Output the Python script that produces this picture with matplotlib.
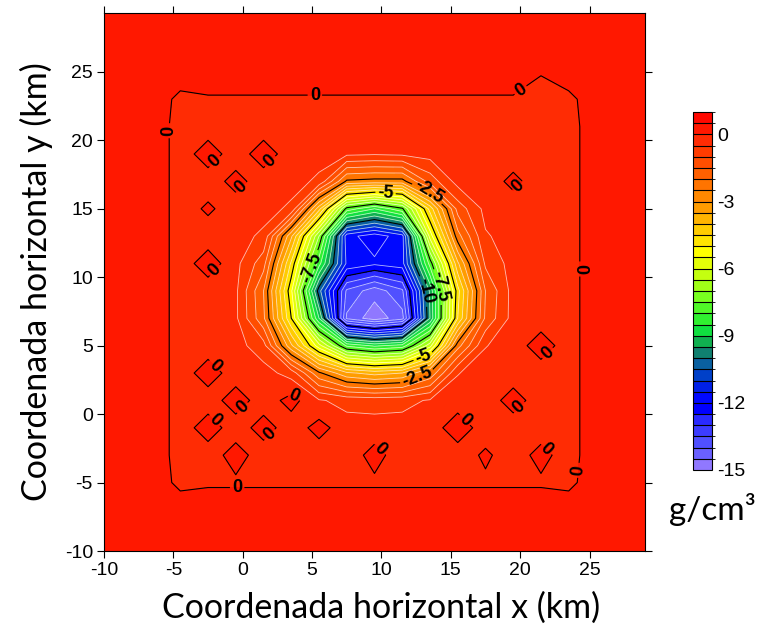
import numpy as np
import matplotlib
matplotlib.use("Agg")
import matplotlib.pyplot as plt
from matplotlib.colors import ListedColormap, BoundaryNorm
from matplotlib.cm import ScalarMappable

plt.rcParams['font.family'] = ['Liberation Sans', 'DejaVu Sans']
plt.rcParams['axes.unicode_minus'] = False
plt.rcParams['contour.negative_linestyle'] = 'solid'

# grid nodes (km)
x_km = np.arange(-10.5, 30, 2.0)   # -10.5 ... 29.5  (21 columns)
y_km = np.arange(-11, 32, 2.0)     # -11 ... 31      (22 rows)

# density contrast read from the map, one row per y node (bottom to top)
#         -10.5 -8.5 -6.5 | -4.5 -2.5 -0.5  1.5  3.5   5.5   7.5   9.5  11.5  13.5  15.5  17.5  19.5  21.5  23.5 | 25.5 27.5 29.5
rho = [
    [.45, .45, .45, .45, .45, .45, .45, .45, .45, .45, .45, .45, .45, .45, .45, .45, .45, .45, .45, .45, .45],   # -11
    [.45, .45, .45, .45, .45, .45, .45, .45, .45, .45, .45, .45, .45, .45, .45, .45, .45, .45, .45, .45, .45],   # -9
    [.45, .45, .45, .45, .45, .45, .45, .45, .45, .45, .45, .45, .45, .45, .45, .45, .45, .45, .45, .45, .45],   # -7
    [.45, .45, .45, -.2, -.1, -.1, -.1, -.1, -.1, -.1, -.1, -.1, -.1, -.1, -.1, -.1, -.1, -.2, .45, .45, .45],   # -5
    [.45, .45, .45, -.3, -.3, .25, -.3, -.3, -.3, -.3, .2, -.3, -.3, -.3, .1, -.3, .2, -.3, .45, .45, .45],      # -3
    [.45, .45, .45, -.3, .3, -.3, .25, -.3, .2, -.3, -.3, -.3, -.3, .35, -.3, -.3, -.3, -.3, .45, .45, .45],      # -1
    [.45, .45, .45, -.3, -.3, .3, -.3, .2, -.45, -.65, -.7, -.65, -.45, -.3, -.3, .25, -.3, -.3, .45, .45, .45],  # 1
    [.45, .45, .45, -.3, .3, -.3, -.3, -.7, -2.4, -3.4, -3.7, -3.5, -2.4, -.52, -.3, -.3, -.3, -.3, .45, .45, .45],  # 3
    [.45, .45, .45, -.3, -.3, -.3, -.8, -3.4, -5.8, -8.1, -8.6, -8.3, -6.2, -2.2, -.52, -.3, .3, -.3, .45, .45, .45],  # 5
    [.45, .45, .45, -.3, -.3, -.4, -1.9, -5.0, -9.0, -14.1, -14.8, -14.2, -9.5, -4.5, -1.4, -.3, -.3, -.3, .45, .45, .45],  # 7
    [.45, .45, .45, -.3, -.3, -.4, -2.0, -5.4, -10.3, -13.6, -14.3, -13.6, -9.4, -4.7, -1.5, -.3, -.3, -.3, .45, .45, .45],  # 9
    [.45, .45, .45, -.3, .3, -.35, -1.3, -4.6, -8.3, -11.6, -11.9, -11.7, -7.8, -3.6, -.9, -.3, -.3, -.3, .45, .45, .45],  # 11
    [.45, .45, .45, -.3, -.3, -.3, -.6, -3.4, -7.0, -11.8, -12.3, -11.7, -5.8, -2.2, -.55, -.3, -.3, -.3, .45, .45, .45],  # 13
    [.45, .45, .45, -.3, .1, -.3, -.3, -.6, -3.8, -7.7, -8.5, -7.6, -4.3, -1.3, -.35, -.3, -.3, -.3, .45, .45, .45],  # 15
    [.45, .45, .45, -.3, -.3, .2, -.3, -.3, -.6, -2.6, -2.7, -2.7, -1.3, -.3, -.3, .15, -.3, -.3, .45, .45, .45],  # 17
    [.45, .45, .45, -.3, .3, -.3, .3, -.3, -.3, -.4, -.45, -.4, -.3, -.3, -.3, -.3, -.3, -.3, .45, .45, .45],      # 19
    [.45, .45, .45, -.3, -.3, -.3, -.3, -.3, -.3, -.3, -.3, -.3, -.3, -.3, -.3, -.3, -.3, -.3, .45, .45, .45],     # 21
    [.45, .45, .45, -.2, -.08, -.08, -.08, -.08, -.08, -.08, -.08, -.08, -.08, -.08, -.08, -.08, -.3, -.2, .45, .45, .45],  # 23
    [.45, .45, .45, .45, .45, .45, .45, .45, .45, .45, .45, .45, .45, .45, .45, .45, .05, .45, .45, .45, .45],   # 25
    [.45, .45, .45, .45, .45, .45, .45, .45, .45, .45, .45, .45, .45, .45, .45, .45, .45, .45, .45, .45, .45],   # 27
    [.45, .45, .45, .45, .45, .45, .45, .45, .45, .45, .45, .45, .45, .45, .45, .45, .45, .45, .45, .45, .45],   # 29
    [.45, .45, .45, .45, .45, .45, .45, .45, .45, .45, .45, .45, .45, .45, .45, .45, .45, .45, .45, .45, .45],   # 31
]

levels = np.arange(-15, 1.01, 0.5)
labelled_levels = [-10, -7.5, -5, -2.5]
unlabelled_black = [-12.5]
cbar_ticks = [0, -3, -6, -9, -12, -15]

band_colors = [
    '#9078ff', '#6a60ff', '#5050ff', '#3c3cff', '#2a2aff', '#0000ff',
    '#0008ff', '#0020e8', '#0040c8', '#0a60a0', '#108070', '#10b050',
    '#10e040', '#30f030', '#50f828', '#78ff20', '#a0ff18', '#c4ff10',
    '#e4ff08', '#ffff00', '#ffe400', '#ffcc00', '#ffb400', '#ff9c00',
    '#ff8800', '#ff7400', '#ff6000', '#ff4e00', '#ff3c00', '#ff2c04',
    '#ff1800', '#ff0800',
]

# where the contour labels sit
anomaly_label_xy = [(10.3, 16.2), (13.2, 15.8), (5.0, 10.7), (14.2, 9.3),
                    (13.2, 9.0), (12.9, 4.5), (12.6, 2.6)]
zero_label_xy = [(5.2, 23.4), (20.2, 23.4), (-5.4, 20.7), (-0.4, -5.3),
                 (24.1, 10.6), (24.1, -4.1),
                 (-2.5, 19), (1.5, 19), (-0.5, 17), (-2.5, 11), (-2.5, 3),
                 (-0.5, 1), (-2.5, -1), (1.5, -1), (3.5, 1), (15.5, -1),
                 (19.5, 1), (21.5, 5), (21.5, -3), (9.5, -3), (19.5, 17)]

Z = np.array(rho)
X, Y = np.meshgrid(x_km, y_km)

cmap = ListedColormap(band_colors)
norm = BoundaryNorm(levels, cmap.N)

fig = plt.figure(figsize=(7.63, 6.40), dpi=100)
ax = fig.add_axes([104 / 763, 89 / 640, 541 / 763, 538 / 640])

ax.contourf(X, Y, Z, levels=levels, cmap=cmap, norm=norm)
minor = [l for l in levels if l < 0 and l > -15 and l % 2.5 != 0]
ax.contour(X, Y, Z, levels=minor, colors='white', linewidths=0.6, alpha=0.7)
ax.contour(X, Y, Z, levels=unlabelled_black, colors='black', linewidths=0.8)
cs = ax.contour(X, Y, Z, levels=labelled_levels, colors='black', linewidths=0.8)
cs0 = ax.contour(X, Y, Z, levels=[0], colors='black', linewidths=0.8)

t1 = ax.clabel(cs, fmt='%g', fontsize=13, manual=anomaly_label_xy,
               inline_spacing=2)
t2 = ax.clabel(cs0, fmt='%g', fontsize=13, manual=zero_label_xy,
               inline_spacing=2)
for t in list(t1) + list(t2):
    t.set_fontweight('bold')

ax.set_xlim(-10, 29)
ax.set_ylim(-10, 29.3)
ax.set_xticks(np.arange(-10, 26, 5))
ax.set_yticks(np.arange(-10, 26, 5))
ax.tick_params(direction='out', length=5, top=True, right=True,
               labelsize=14, pad=3)

fig.text(381 / 763, 1 - 608 / 640, 'Coordenada horizontal x (km)',
         ha='center', va='center', fontsize=24.5, family=['Lato', 'DejaVu Sans'])
fig.text(36 / 763, 1 - 282 / 640, 'Coordenada horizontal y (km)',
         ha='center', va='center', rotation=90, fontsize=24.5,
         family=['Lato', 'DejaVu Sans'])

cax = fig.add_axes([693 / 763, 1 - 470 / 640, 19 / 763, 358 / 640])
sm = ScalarMappable(norm=norm, cmap=cmap)
cb = fig.colorbar(sm, cax=cax, drawedges=True, ticks=cbar_ticks)
cb.outline.set_linewidth(0.8)
cb.dividers.set_linewidth(0.8)
cb.ax.tick_params(length=0, labelsize=14, pad=4)
fig.text(712 / 763, 1 - 510 / 640, 'g/cm³', ha='center', va='center',
         fontsize=24, family=['Lato', 'DejaVu Sans'])

fig.savefig('out.png', dpi=100)
